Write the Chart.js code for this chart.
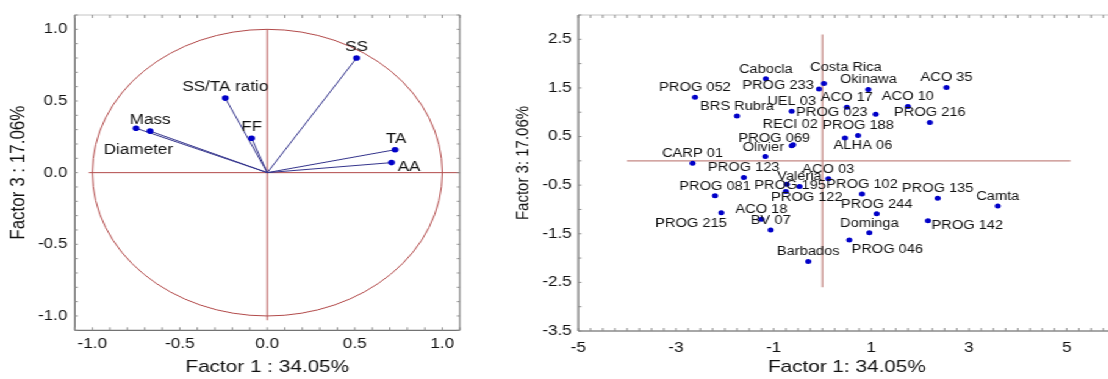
<!DOCTYPE html>
<html>
<head>
<meta charset="utf-8">
<script src="https://cdn.jsdelivr.net/npm/chart.js@4.4.1/dist/chart.umd.min.js"></script>
<style>
  html, body { margin: 0; padding: 0; background: #fff; width: 1108px; height: 379px; overflow: hidden; }
  /* both panels are laid out narrow and widened as a whole */
  #stage { position: absolute; left: 0; top: 0; width: 920px; height: 379px; transform: scaleX(1.22); transform-origin: 0 0; }
  #loadings { position: absolute; left: 0; top: 0; }
  #scores { position: absolute; left: 400px; top: 0; }
</style>
</head>
<body>
<div id="stage">
  <canvas id="loadings" width="400" height="379"></canvas>
  <canvas id="scores" width="520" height="379"></canvas>
</div>
<script>
// ---- Variable loadings: Factor 1 vs Factor 3 ----
const variables = ['SS', 'SS/TA ratio', 'FF', 'Mass', 'Diameter', 'TA', 'AA'];
const loadF1 = [0.51, -0.24, -0.09, -0.67, -0.75, 0.73, 0.71];
const loadF3 = [0.80, 0.52, 0.24, 0.29, 0.31, 0.16, 0.07];
const loadTicks = [-1.0, -0.5, 0.0, 0.5, 1.0];

// ---- Genotype scores: Factor 1 vs Factor 3 ----
const genotypes = [
  'PROG 052', 'Cabocla', 'PROG 233', 'Costa Rica', 'Okinawa', 'ACO 35', 'BRS Rubra',
  'UEL 03', 'ACO 17', 'ACO 10', 'PROG 023', 'PROG 216', 'ALHA 06', 'PROG 188',
  'PROG 069', 'RECI 02', 'Olivier', 'CARP 01', 'PROG 123', 'ACO 03', 'Valéria', 'PROG 195',
  'PROG 122', 'PROG 081', 'PROG 102', 'PROG 244', 'PROG 215', 'ACO 18', 'BV 07',
  'Dominga', 'PROG 046', 'Barbados', 'PROG 135', 'Camta', 'PROG 142'
];
const scoreF1 = [
  -2.61, -1.16, -0.07, 0.03, 0.94, 2.54, -1.75,
  -0.63, 0.50, 1.75, 1.09, 2.20, 0.46, 0.73,
  -0.63, -0.60, -1.17, -2.66, -1.61, 0.12, -0.73, -0.47,
  -0.75, -2.20, 0.81, 1.11, -2.07, -1.25, -1.06,
  0.96, 0.55, -0.29, 2.36, 3.59, 2.16
];
const scoreF3 = [
  1.31, 1.69, 1.48, 1.59, 1.47, 1.51, 0.92,
  1.02, 1.10, 1.12, 0.96, 0.79, 0.47, 0.52,
  0.31, 0.33, 0.09, -0.05, -0.34, -0.37, -0.48, -0.53,
  -0.63, -0.72, -0.68, -1.09, -1.07, -1.20, -1.42,
  -1.48, -1.63, -2.07, -0.77, -0.93, -1.23
];
const scoreXTicks = [-5, -3, -1, 1, 3, 5];
const scoreYTicks = [2.5, 1.5, 0.5, -0.5, -1.5, -2.5, -3.5];

// ---- drawing settings ----
const STRETCH = 1.22;
const FONT = "'Liberation Sans', Arial, Helvetica, sans-serif";
const DOT = '#0000c8';
Chart.defaults.font.family = FONT;
Chart.defaults.color = '#111';
Chart.defaults.animation = false;

// label placement relative to its marker, in screen pixels [dx, dy]
const loadLabelShift = {
  'SS': [0, -10.5], 'SS/TA ratio': [0, -10.5], 'FF': [0, -11], 'Mass': [0, -10.7],
  'Diameter': [2.3, 22], 'TA': [1, -11], 'AA': [17.4, 4.3]
};
const scoreLabelShift = {
  'PROG 233': [-41, -3], 'Costa Rica': [22, -16], 'PROG 023': [-43.7, -1],
  'ALHA 06': [18, 7.7], 'PROG 069': [-17.4, -6.7], 'RECI 02': [-3, -20.3],
  'Olivier': [-2, -8.4], 'Valéria': [12.6, -7.6], 'PROG 195': [-9.3, -0.7],
  'PROG 122': [21, 6], 'PROG 215': [-30.3, 11], 'PROG 046': [38, 9.7],
  'PROG 142': [39.3, 5]
};
const DEFAULT_SHIFT = [0, -9.4];

function seg(ctx, x1, y1, x2, y2) {
  ctx.beginPath(); ctx.moveTo(x1, y1); ctx.lineTo(x2, y2); ctx.stroke();
}

// box edges and small inward tick marks
function drawFrame(chart, f) {
  const { ctx, chartArea: a, scales: { x, y } } = chart;
  ctx.save();
  ctx.lineWidth = 1;
  ctx.strokeStyle = '#c4c4c4';
  seg(ctx, a.left, a.top, a.right, a.top);
  ctx.strokeStyle = '#505050';
  seg(ctx, a.left, a.top, a.left, a.bottom);
  seg(ctx, a.left, a.bottom, a.right, a.bottom);
  if (f.right) { ctx.strokeStyle = '#6a6a6a'; seg(ctx, a.right, a.top, a.right, a.bottom); }
  ctx.strokeStyle = '#8a8a8a';
  const [x0, x1, xs] = f.xMinor;
  for (let v = x0; v <= x1 + 1e-9; v += xs) {
    const px = x.getPixelForValue(+v.toFixed(6));
    if (px < a.left - 0.5 || px > a.right + 0.5) continue;
    seg(ctx, px, a.bottom, px, a.bottom - f.len);
    seg(ctx, px, a.top, px, a.top + f.len);
  }
  const [y0, y1, ys] = f.yMinor;
  for (let v = y0; v <= y1 + 1e-9; v += ys) {
    const py = y.getPixelForValue(+v.toFixed(6));
    seg(ctx, a.left, py, a.left + f.len / STRETCH, py);
    if (f.right) seg(ctx, a.right, py, a.right - f.len / STRETCH, py);
  }
  ctx.restore();
}

function drawNames(chart, names, xs, ys, shifts, font) {
  const { ctx, scales: { x, y } } = chart;
  ctx.save();
  ctx.font = font;
  ctx.fillStyle = '#111';
  ctx.textAlign = 'center';
  ctx.textBaseline = 'middle';
  names.forEach((n, i) => {
    const s = shifts[n] || DEFAULT_SHIFT;
    ctx.fillText(n, x.getPixelForValue(xs[i]) + s[0] / STRETCH, y.getPixelForValue(ys[i]) + s[1]);
  });
  ctx.restore();
}

function axisTitle(text, pad) {
  return { display: true, text, color: '#111', font: { size: 17 }, padding: pad };
}
function tickOpts(values, fmt, padding) {
  return { color: '#111', font: { size: 14 }, padding, callback: fmt };
}

// ---- loading plot ----
const vectorPath = [];
variables.forEach((v, i) => {
  vectorPath.push({ x: 0, y: 0 }, { x: loadF1[i], y: loadF3[i] }, { x: 0, y: null });
});

new Chart(document.getElementById('loadings'), {
  type: 'scatter',
  data: {
    datasets: [
      { type: 'line', data: vectorPath, borderColor: '#34348c', borderWidth: 1,
        pointRadius: 0, spanGaps: false, fill: false, order: 2 },
      { data: variables.map((v, i) => ({ x: loadF1[i], y: loadF3[i] })),
        backgroundColor: DOT, borderWidth: 0, pointRadius: 2.8, order: 1 }
    ]
  },
  options: {
    responsive: false,
    layout: { padding: { left: 0, right: 23.1, top: 15, bottom: 0 } },
    plugins: { legend: { display: false }, tooltip: { enabled: false } },
    scales: {
      x: {
        type: 'linear', min: -1.1, max: 1.1,
        grid: { display: false, drawTicks: false }, border: { display: false },
        ticks: tickOpts(loadTicks, v => v.toFixed(1), 5),
        afterBuildTicks: s => { s.ticks = loadTicks.map(v => ({ value: v })); },
        afterFit: s => { s.height = 48.7; },
        title: axisTitle('Factor 1 : 34.05%', { top: 0, bottom: 1 })
      },
      y: {
        type: 'linear', min: -1.1, max: 1.1,
        grid: { display: false, drawTicks: false }, border: { display: false },
        ticks: tickOpts(loadTicks, v => v.toFixed(1), 6),
        afterBuildTicks: s => { s.ticks = loadTicks.map(v => ({ value: v })); },
        afterFit: s => { s.width = 61.3; },
        title: axisTitle('Factor 3 : 17.06%', { top: 5.5, bottom: 0 })
      }
    }
  },
  plugins: [{
    id: 'unitCircle',
    beforeDatasetsDraw(chart) {
      const { ctx, scales: { x, y } } = chart;
      const cx = x.getPixelForValue(0), cy = y.getPixelForValue(0);
      ctx.save();
      ctx.strokeStyle = '#b24a4a';
      ctx.lineWidth = 1;
      ctx.beginPath();
      ctx.ellipse(cx, cy, x.getPixelForValue(1) - cx, cy - y.getPixelForValue(1), 0, 0, Math.PI * 2);
      ctx.stroke();
      seg(ctx, x.getPixelForValue(-1.02), cy, x.getPixelForValue(1.1), cy);
      seg(ctx, cx, y.getPixelForValue(1.0), cx, y.getPixelForValue(-1.03));
      ctx.restore();
    },
    afterDatasetsDraw(chart) {
      drawNames(chart, variables, loadF1, loadF3, loadLabelShift, `14px ${FONT}`);
    },
    afterDraw(chart) {
      drawFrame(chart, { right: true, len: 3, xMinor: [-1.1, 1.1, 0.1], yMinor: [-1.1, 1.1, 0.1] });
    }
  }]
});

// ---- score plot ----
new Chart(document.getElementById('scores'), {
  type: 'scatter',
  data: {
    datasets: [
      { data: genotypes.map((g, i) => ({ x: scoreF1[i], y: scoreF3[i] })),
        backgroundColor: DOT, borderWidth: 0, pointRadius: 2.5 }
    ]
  },
  options: {
    responsive: false,
    layout: { padding: { left: 0, right: 5.7, top: 15, bottom: 0 } },
    plugins: { legend: { display: false }, tooltip: { enabled: false } },
    scales: {
      x: {
        type: 'linear', min: -5, max: 6,
        grid: { display: false, drawTicks: false }, border: { display: false },
        ticks: tickOpts(scoreXTicks, v => String(v), 8.5),
        afterBuildTicks: s => { s.ticks = scoreXTicks.map(v => ({ value: v })); },
        afterFit: s => { s.height = 48; },
        title: axisTitle('Factor 1: 34.05%', { top: 0, bottom: 1 })
      },
      y: {
        type: 'linear', min: -3.5, max: 3.0,
        grid: { display: false, drawTicks: false }, border: { display: false },
        ticks: tickOpts(scoreYTicks, v => String(v), 5.4),
        afterBuildTicks: s => { s.ticks = scoreYTicks.map(v => ({ value: v })); },
        afterFit: s => { s.width = 74.0; },
        title: { display: false }
      }
    }
  },
  plugins: [{
    id: 'scoreAxes',
    beforeDatasetsDraw(chart) {
      const { ctx, scales: { x, y } } = chart;
      const cx = x.getPixelForValue(0), cy = y.getPixelForValue(0);
      ctx.save();
      ctx.strokeStyle = '#c48884';
      ctx.lineWidth = 1.2;
      seg(ctx, x.getPixelForValue(-4.0), cy, x.getPixelForValue(5.08), cy);
      seg(ctx, cx, y.getPixelForValue(2.6), cx, y.getPixelForValue(-2.6));
      ctx.restore();
    },
    afterDatasetsDraw(chart) {
      drawNames(chart, genotypes, scoreF1, scoreF3, scoreLabelShift, `12px ${FONT}`);
    },
    afterDraw(chart) {
      drawFrame(chart, { right: false, len: 3, xMinor: [-5, 6, 0.25], yMinor: [-3.5, 3.0, 0.5] });
      // vertical axis title
      const { ctx } = chart;
      ctx.save();
      ctx.translate(28.5, 163);
      ctx.rotate(-Math.PI / 2);
      ctx.font = `15px ${FONT}`;
      ctx.fillStyle = '#111';
      ctx.textAlign = 'center';
      ctx.textBaseline = 'middle';
      ctx.fillText('Factor 3: 17.06%', 0, 0);
      ctx.restore();
    }
  }]
});
</script>
</body>
</html>
